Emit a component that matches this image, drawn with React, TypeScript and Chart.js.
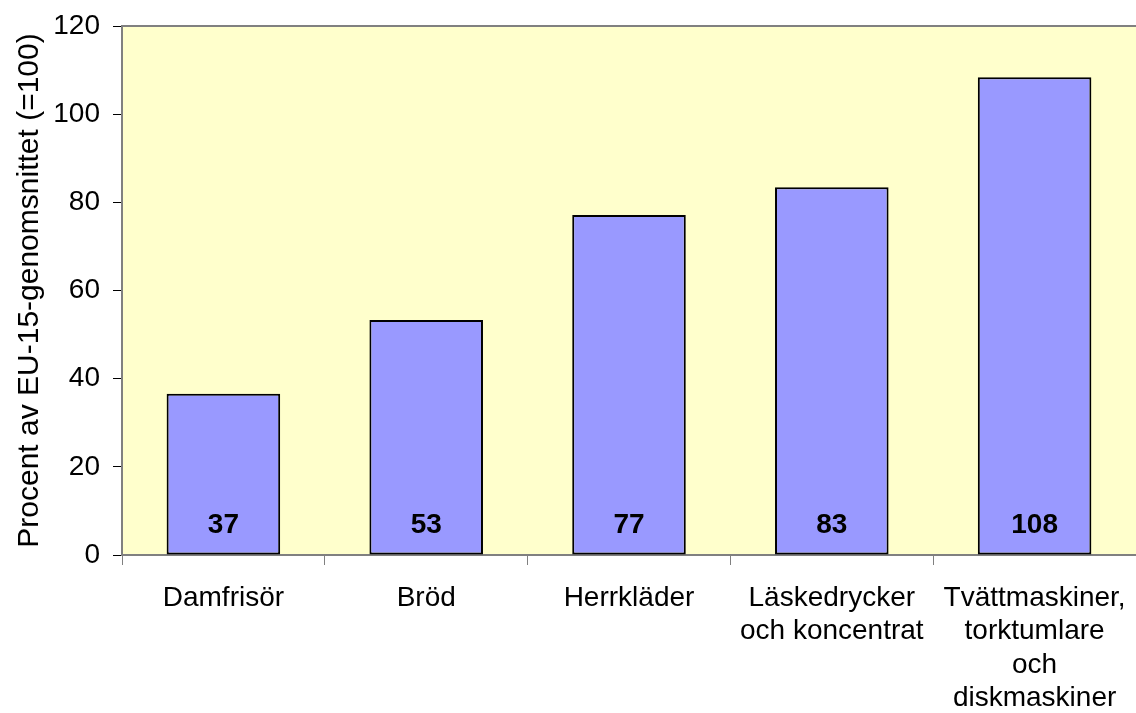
import React, { useEffect, useRef } from 'react';
import { Chart, registerables } from 'chart.js';

Chart.register(...registerables);

const categories: string[][] = [
  ['Damfrisör'],
  ['Bröd'],
  ['Herrkläder'],
  ['Läskedrycker', 'och koncentrat'],
  ['Tvättmaskiner,', 'torktumlare', 'och', 'diskmaskiner'],
];
const values = [36.6, 53.3, 77.1, 83.4, 108.4];
const valueLabels = ['37', '53', '77', '83', '108'];
const yMin = 0;
const yMax = 120;
const yStep = 20;
const yTitle = 'Procent av EU-15-genomsnittet (=100)';

const FONT = '"Liberation Sans", Arial, sans-serif';

const bgPlugin = {
  id: 'bgPlugin',
  beforeDraw(chart: any) {
    const { ctx, chartArea } = chart;
    ctx.save();
    ctx.fillStyle = '#FFFFCC';
    ctx.fillRect(chartArea.left, chartArea.top, chartArea.right - chartArea.left, chartArea.bottom - chartArea.top);
    ctx.strokeStyle = '#808080';
    ctx.lineWidth = 2;
    ctx.beginPath();
    ctx.moveTo(chartArea.left, chartArea.top);
    ctx.lineTo(chartArea.right, chartArea.top);
    ctx.stroke();
    ctx.restore();
  },
};

const labelPlugin = {
  id: 'labelPlugin',
  afterDatasetsDraw(chart: any) {
    const { ctx, chartArea } = chart;
    const meta = chart.getDatasetMeta(0);
    ctx.save();
    ctx.font = `bold 28px ${FONT}`;
    ctx.fillStyle = '#000';
    ctx.textAlign = 'center';
    ctx.textBaseline = 'middle';
    meta.data.forEach((bar: any, i: number) => {
      ctx.fillText(valueLabels[i], bar.x, chartArea.bottom - 30);
    });
    ctx.restore();
  },
};

export default function App() {
  const ref = useRef<HTMLCanvasElement | null>(null);
  useEffect(() => {
    if (!ref.current) return;
    const chart = new Chart(ref.current, {
      type: 'bar',
      data: {
        labels: categories,
        datasets: [
          {
            data: values,
            backgroundColor: '#9999FF',
            borderColor: '#000000',
            borderWidth: 2,
            borderSkipped: false,
            barPercentage: 0.56,
            categoryPercentage: 1,
          },
        ],
      },
      options: {
        animation: false,
        responsive: true,
        maintainAspectRatio: false,
        layout: { padding: { top: 26, right: 0, left: 0, bottom: 0 } },
        plugins: {
          legend: { display: false },
          tooltip: { enabled: false },
        },
        scales: {
          x: {
            offset: true,
            grid: {
              offset: true,
              drawOnChartArea: false,
              drawTicks: true,
              tickLength: 10,
              color: '#808080',
              lineWidth: 1,
            },
            border: { color: '#808080', width: 2 },
            ticks: {
              color: '#000',
              font: { family: FONT, size: 28 },
              padding: 16,
              maxRotation: 0,
              autoSkip: false,
            },
            afterFit(scale: any) {
              scale.height = 158;
              scale.paddingLeft = 0;
              scale.paddingRight = 0;
            },
          },
          y: {
            min: yMin,
            max: yMax,
            grid: {
              drawOnChartArea: false,
              drawTicks: true,
              tickLength: 9,
              color: '#000',
              lineWidth: 1,
            },
            border: { color: '#808080', width: 2 },
            ticks: {
              stepSize: yStep,
              color: '#000',
              font: { family: FONT, size: 28 },
              padding: 13,
            },
            title: {
              display: true,
              text: yTitle,
              color: '#000',
              font: { family: FONT, size: 30, weight: 'normal' },
              padding: { top: 12, bottom: 0 },
            },
            afterFit(scale: any) {
              scale.width = 122;
              scale.paddingTop = 0;
              scale.paddingBottom = 0;
            },
          },
        },
      },
      plugins: [bgPlugin, labelPlugin],
    });
    return () => chart.destroy();
  }, []);
  return (
    <div style={{ position: 'absolute', left: 0, top: 0, width: 1136, height: 713 }}>
      <canvas ref={ref} />
    </div>
  );
}
